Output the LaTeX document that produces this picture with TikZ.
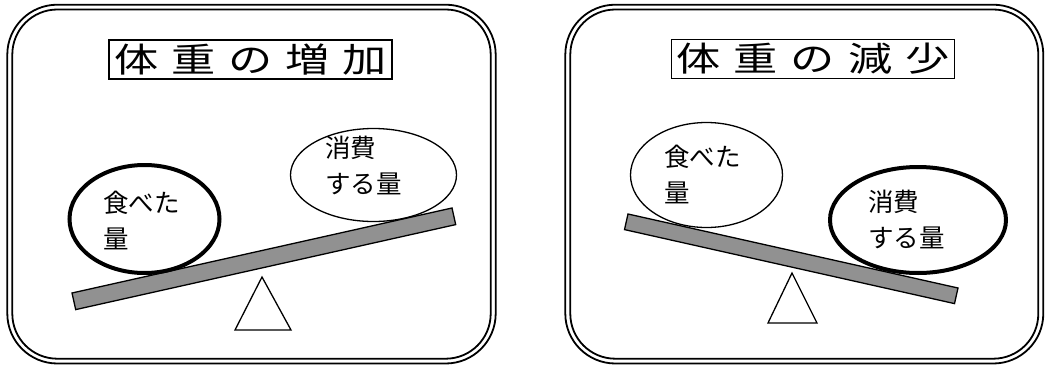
\documentclass[tikz,border=0pt]{standalone}
\usepackage{fontspec}
\setmainfont{Noto Sans CJK JP}
\usetikzlibrary{shapes.geometric}
\definecolor{beamgray}{RGB}{145,145,145}
\newcommand{\widechars}[1]{\scalebox{1.0}[1]{#1}}
\begin{document}
\begin{tikzpicture}[x=1pt,y=-1pt,
  frameline/.style={line width=1.8pt},
  titlebox/.style={draw, line width=1.5pt, minimum width=283pt, minimum height=39pt, inner sep=0pt, font=\fontsize{34}{34}\selectfont},
  thickell/.style={draw, ellipse, line width=4pt, inner sep=0pt},
  thinell/.style={draw, ellipse, line width=1.3pt, inner sep=0pt},
  lbl/.style={align=left, inner sep=0pt, anchor=north west, font=\fontsize{25.5}{35.5}\selectfont},
  beam/.style={draw, fill=beamgray, line width=1.3pt, line join=miter},
  fulcrum/.style={draw, fill=white, line width=1.3pt}]
\useasboundingbox (0,0) rectangle (1045,367);
% left panel frame
\draw[frameline, rounded corners=50pt] (7.3,4.7) rectangle (495.7,363.5);
\draw[frameline, rounded corners=45pt] (12.3,9.5) rectangle (490.7,358.7);
% right panel frame
\draw[frameline, rounded corners=50pt] (565.3,4.7) rectangle (1043.3,363.5);
\draw[frameline, rounded corners=45pt] (570.3,9.5) rectangle (1038.3,358.7);
% titles
\node[titlebox] (t1) at (250.5,59.5) {\scalebox{1.3}[1]{\makebox[210pt]{体\hfill 重\hfill の\hfill 増\hfill 加}}};
\node[titlebox] (t2) at (813,59) {\scalebox{1.3}[1]{\makebox[210pt]{体\hfill 重\hfill の\hfill 減\hfill 少}}};
% left panel
\draw[beam] (72,293) -- (452,208) -- (455.7,224.6) -- (75.7,309.6) -- cycle;
\draw[fulcrum] (262,277) -- (291,330) -- (235,330) -- cycle;
\node[thickell, minimum width=150pt, minimum height=108pt] (e1) at (144.5,219) {};
\node[thinell, minimum width=166pt, minimum height=93pt] (e2) at (373.5,175) {};
\node[lbl] (l1) at (103,191) {\widechars{食べた}\\\widechars{量}};
\node[lbl] (l2) at (325,136) {\widechars{消費}\\\widechars{する量}};
% right panel
\draw[beam] (628,214) -- (958,288) -- (954.5,303.6) -- (624.5,229.6) -- cycle;
\draw[fulcrum] (792,273) -- (817,323) -- (768,323) -- cycle;
\node[thinell, minimum width=152pt, minimum height=105pt] (e3) at (706.5,175) {};
\node[thickell, minimum width=176pt, minimum height=106pt] (e4) at (918,220) {};
\node[lbl] (l3) at (664,145) {\widechars{食べた}\\\widechars{量}};
\node[lbl] (l4) at (868,190) {\widechars{消費}\\\widechars{する量}};
\end{tikzpicture}
\end{document}
